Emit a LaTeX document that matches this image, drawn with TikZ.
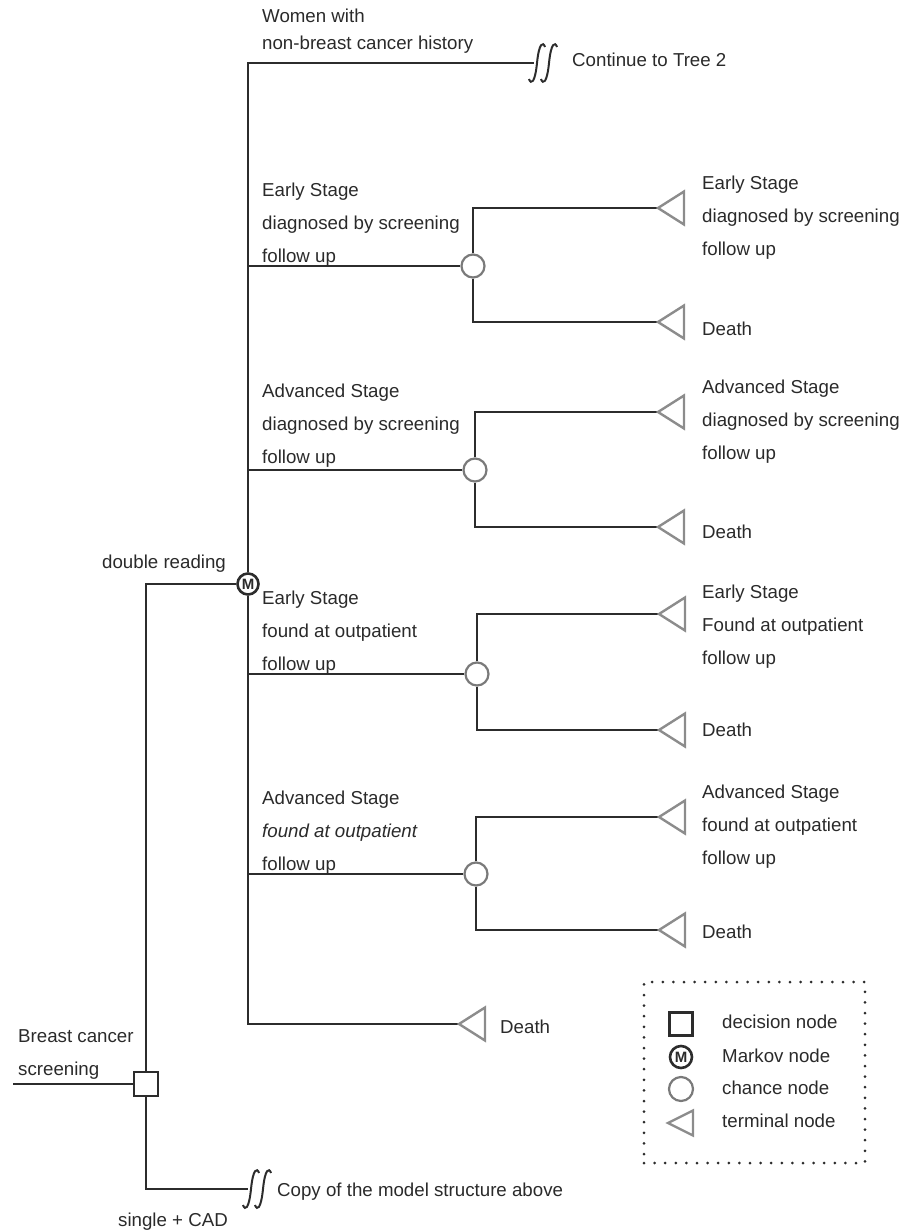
\documentclass[tikz,border=0pt]{standalone}
\usepackage{fontspec}
\setmainfont{Liberation Sans}
\definecolor{ink}{HTML}{2C2C2C}
\definecolor{txt}{HTML}{2A2A2A}
\definecolor{gry}{HTML}{8C8C8C}
\definecolor{cgry}{HTML}{7A7A7A}
\tikzset{
 ln/.style={draw=ink, line width=2pt},
 lab/.style={anchor=base west, inner sep=0pt, text=txt, font=\fontsize{18.7}{22}\selectfont},
 chance/.style={circle, draw=cgry, line width=2.2pt, fill=white, minimum size=23pt, inner sep=0pt},
 markov/.style={circle, draw=ink, line width=2.6pt, fill=white, minimum size=21pt, inner sep=0pt, font=\fontsize{15}{15}\selectfont\bfseries, text=ink},
 decision/.style={rectangle, draw=ink, line width=2.2pt, fill=white, minimum size=24pt, inner sep=0pt},
 term/.style={draw=gry, line width=2.4pt, line join=miter},
 squig/.style={draw=ink, line width=2pt},
 legbox/.style={draw=ink, line width=3pt, line cap=round, dash pattern=on 0pt off 10.6pt, minimum width=221pt, minimum height=181pt, inner sep=0pt},
}
\newcommand\termtri[1]{\draw[term] (#1) -- ++(26,-16.5) -- ++(0,33) -- cycle;}
\newcommand\squiggle[2]{\draw[squig] ({#1-8},{#2+16}) .. controls ({#1-6},{#2+22}) and ({#1-2},{#2+20}) .. (#1,#2) .. controls ({#1+2},{#2-20}) and ({#1+6},{#2-22}) .. ({#1+8},{#2-16});}
\newcommand\tlabel[4]{\foreach \t [count=\i from 0] in {#4}{\node[lab] (#1\i) at (#2,{#3+33*\i}) {\t};}}
\begin{document}
\begin{tikzpicture}[x=1pt,y=-1pt]
\useasboundingbox (0,0) rectangle (918,1232);
% ---- nodes
\node[decision] (D) at (146,1084) {};
\coordinate (in) at (13,1084);
\node[markov] (M) at (248,584) {M};
\coordinate (sqA) at (534,63);
\coordinate (sqB) at (248,1189);
\node[chance] (c1) at (473,266) {};
\node[chance] (c2) at (475,470) {};
\node[chance] (c3) at (477,674) {};
\node[chance] (c4) at (476,874) {};
\coordinate (t1u) at (658,208);
\coordinate (t1d) at (658,322);
\coordinate (t2u) at (658,412);
\coordinate (t2d) at (658,527);
\coordinate (t3u) at (659,614);
\coordinate (t3d) at (659,730);
\coordinate (t4u) at (659,817);
\coordinate (t4d) at (659,930);
\coordinate (t5) at (459,1024);
% ---- connectors
\draw[ln] (in) -- (D);
\draw[ln] (D) |- (M);
\draw[ln] (D) |- (sqB);
\draw[ln] (M) |- (sqA);
\draw[ln] (M) |- (c1);
\draw[ln] (M) |- (c2);
\draw[ln] (M) |- (c3);
\draw[ln] (M) |- (c4);
\draw[ln] (M) |- (t5);
\foreach \k in {1,2,3,4}{
 \draw[ln] (c\k) |- (t\k u);
 \draw[ln] (c\k) |- (t\k d);
}
% ---- terminal symbols and squiggles
\foreach \p in {t1u,t1d,t2u,t2d,t3u,t3d,t4u,t4d,t5}{\termtri{\p}}
\squiggle{537}{63}\squiggle{549}{63}
\squiggle{251}{1189}\squiggle{263}{1189}
% ---- labels
\node[lab] (w0) at (262,22) {Women with};
\node[lab] (w1) at (262,49) {non-breast cancer history};
\node[lab] (cont) at (572,66) {Continue to Tree 2};
\tlabel{b1l}{262}{196}{Early Stage, diagnosed by screening, follow up}
\tlabel{b2l}{262}{397}{Advanced Stage, diagnosed by screening, follow up}
\tlabel{b3l}{262}{604}{Early Stage, found at outpatient, follow up}
\tlabel{b4l}{262}{804}{Advanced Stage, \textit{found at outpatient}, follow up}
\tlabel{b1r}{702}{189}{Early Stage, diagnosed by screening, follow up}
\tlabel{b2r}{702}{393}{Advanced Stage, diagnosed by screening, follow up}
\tlabel{b3r}{702}{598}{Early Stage, Found at outpatient, follow up}
\tlabel{b4r}{702}{798}{Advanced Stage, found at outpatient, follow up}
\node[lab] (d1) at (702,335) {Death};
\node[lab] (d2) at (702,538) {Death};
\node[lab] (d3) at (702,736) {Death};
\node[lab] (d4) at (702,938) {Death};
\node[lab] (d5) at (500,1033) {Death};
\node[lab] (dbl) at (102,568) {double reading};
\node[lab] (sgl) at (118,1226) {single + CAD};
\node[lab] (bc0) at (18,1042) {Breast cancer};
\node[lab] (bc1) at (18,1075) {screening};
\node[lab] (copy) at (277,1196) {Copy of the model structure above};
% ---- legend
\node[legbox] (legend) at (754.5,1072.5) {};
\node[decision, minimum size=23pt] (lD) at (681,1024) {};
\node[markov, minimum size=22pt] (lM) at (681,1057) {M};
\node[chance, minimum size=24pt] (lC) at (681,1089) {};
\coordinate (lT) at (668,1123);
\draw[term] (lT) -- ++(25,-12.5) -- ++(0,25) -- cycle;
\node[lab] (lDt) at (722,1028) {decision node};
\node[lab] (lMt) at (722,1062) {Markov node};
\node[lab] (lCt) at (722,1094) {chance node};
\node[lab] (lTt) at (722,1127) {terminal node};
\end{tikzpicture}
\end{document}
